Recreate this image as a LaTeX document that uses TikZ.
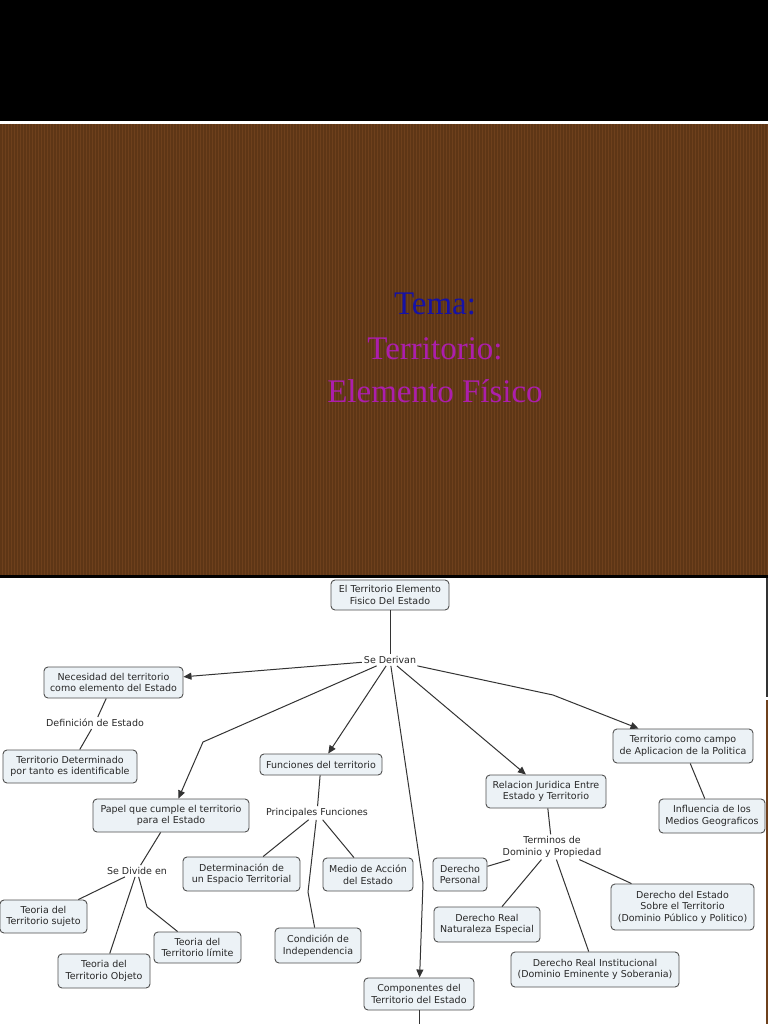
\documentclass[tikz,border=0pt]{standalone}
\usepackage{fontspec}
\setmainfont{Liberation Serif}
\newfontfamily\mapafont{DejaVu Sans}
\usetikzlibrary{arrows.meta}

\definecolor{marron}{RGB}{110,64,28}
\definecolor{marronosc}{RGB}{94,54,22}
\definecolor{azultema}{RGB}{22,18,165}
\definecolor{moradotit}{RGB}{172,30,172}
\definecolor{cajafondo}{RGB}{236,242,246}
\definecolor{cajaborde}{RGB}{80,80,80}
\definecolor{textomapa}{RGB}{40,40,40}

\tikzset{
  caja/.style={draw=cajaborde, fill=cajafondo, rounded corners=4pt, line width=0.9pt,
    align=center, text=textomapa, inner sep=0pt,
    font=\mapafont\fontsize{9.5}{11.6}\selectfont},
  enlace/.style={align=center, text=textomapa, inner sep=2pt,
    font=\mapafont\fontsize{9.5}{11.6}\selectfont},
  titulo/.style={anchor=base, font=\fontsize{33}{40}\selectfont},
  conector/.style={line width=1pt, draw=black!80},
}

\begin{document}
\begin{tikzpicture}[x=1pt,y=-1pt,>={Triangle[length=8pt,width=7pt]}]
  \useasboundingbox (0,0) rectangle (768,1024);
  % fondo: banda negra, diapositiva marron y hoja blanca
  \fill[black] (0,0) rectangle (768,121);
  \fill[white] (0,121) rectangle (768,124);
  \fill[marron] (0,124) rectangle (768,575);
  \foreach \x in {1,4,...,767} \draw[marronosc,line width=1.1] (\x,124)--(\x,575);
  \fill[black] (0,575) rectangle (768,578);
  \fill[white] (0,578) rectangle (768,1024);
  \draw[black!80,line width=1.5] (767.2,578)--(767.2,697);
  \fill[marron] (765.5,700) rectangle (768,1024);
  % titulo
  \node[titulo,text=azultema] (tema) at (435,314) {Tema:};
  \node[titulo,text=moradotit] (territorio) at (435,359) {Territorio:};
  \node[titulo,text=moradotit] (fisico) at (435,402) {Elemento Físico};
  % mapa conceptual
  \node[caja,minimum width=118,minimum height=30] (raiz) at (390,595) {El Territorio Elemento\\Fisico Del Estado};
  \node[enlace] (derivan) at (390,660) {Se Derivan};
  \node[caja,minimum width=139,minimum height=31] (necesidad) at (113.5,682.5) {Necesidad del territorio\\como elemento del Estado};
  \node[enlace] (definicion) at (95,723) {Definición de Estado};
  \node[caja,minimum width=134,minimum height=33] (determinado) at (70,766.5) {Territorio Determinado\\por tanto es identificable};
  \node[caja,minimum width=122,minimum height=21] (funciones) at (321,764.5) {Funciones del territorio};
  \node[caja,minimum width=156,minimum height=33] (papel) at (171,815.5) {Papel que cumple el territorio\\para el Estado};
  \node[enlace] (divide) at (137,871) {Se Divide en};
  \node[caja,minimum width=87,minimum height=33] (sujeto) at (43.5,916.5) {Teoria del\\Territorio sujeto};
  \node[caja,minimum width=92,minimum height=34] (objeto) at (104,971) {Teoria del\\Territorio Objeto};
  \node[caja,minimum width=87,minimum height=31] (limite) at (197.5,947.5) {Teoria del\\Territorio límite};
  \node[enlace] (principales) at (317,813) {Principales Funciones};
  \node[caja,minimum width=117,minimum height=34] (espacio) at (241.5,874) {Determinación de\\un Espacio Territorial};
  \node[caja,minimum width=90,minimum height=33] (medio) at (368,874.5) {Medio de Acción\\del Estado};
  \node[caja,minimum width=86,minimum height=35] (condicion) at (318,945.5) {Condición de\\Independencia};
  \node[caja,minimum width=110,minimum height=32] (componentes) at (419,994) {Componentes del\\Territorio del Estado};
  \node[caja,minimum width=120,minimum height=33] (relacion) at (546,791.5) {Relacion Juridica Entre\\Estado y Territorio};
  \node[enlace] (terminos) at (552,847) {Terminos de\\Dominio y Propiedad};
  \node[caja,minimum width=54,minimum height=33] (personal) at (460,874.5) {Derecho\\Personal};
  \node[caja,minimum width=106,minimum height=35] (naturaleza) at (487,924.5) {Derecho Real\\Naturaleza Especial};
  \node[caja,minimum width=168,minimum height=35] (institucional) at (595,969.5) {Derecho Real Institucional\\(Dominio Eminente y Soberania)};
  \node[caja,minimum width=143,minimum height=46] (sobre) at (682.5,907) {Derecho del Estado\\Sobre el Territorio\\(Dominio Público y Politico)};
  \node[caja,minimum width=140,minimum height=34] (campo) at (683,746) {Territorio como campo\\de Aplicacion de la Politica};
  \node[caja,minimum width=106,minimum height=34] (influencia) at (712,816) {Influencia de los\\Medios Geograficos};
  % codos de los conectores
  \coordinate (codopapel) at (203,742);
  \coordinate (codocomp) at (423,883);
  \coordinate (codocampo) at (553,695);
  \coordinate (codocond) at (308,892);
  \coordinate (codolimite) at (147,907);
  \coordinate (abajo) at (419,1030);
  % conectores desde la raiz
  \draw[conector] (raiz)--(derivan);
  \draw[conector,->] (derivan)--(necesidad);
  \draw[conector,->] (derivan)--(codopapel)--(papel);
  \draw[conector,->] (derivan)--(funciones);
  \draw[conector,->] (derivan)--(codocomp)--(componentes);
  \draw[conector,->] (derivan)--(relacion);
  \draw[conector,->] (derivan)--(codocampo)--(campo);
  \draw[conector] (componentes)--(abajo);
  % ramas
  \draw[conector] (necesidad)--(definicion)--(determinado);
  \draw[conector] (papel)--(divide);
  \draw[conector] (divide)--(sujeto);
  \draw[conector] (divide)--(objeto);
  \draw[conector] (divide)--(codolimite)--(limite);
  \draw[conector] (funciones)--(principales);
  \draw[conector] (principales)--(espacio);
  \draw[conector] (principales)--(medio);
  \draw[conector] (principales)--(codocond)--(condicion);
  \draw[conector] (campo)--(influencia);
  \draw[conector] (relacion)--(terminos);
  \foreach \d in {personal,naturaleza,institucional,sobre}
    \draw[conector] (terminos)--(\d);
\end{tikzpicture}
\end{document}
